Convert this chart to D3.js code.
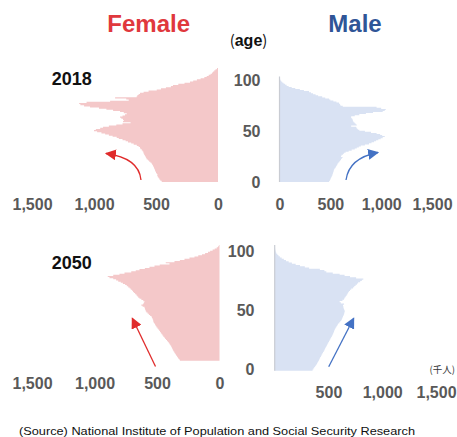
<!DOCTYPE html>
<html><head><meta charset="utf-8">
<script src="https://cdn.jsdelivr.net/npm/d3@7"></script>
<style>
html,body{margin:0;padding:0;background:#fff;}
svg{display:block;font-family:"Liberation Sans",Arial,sans-serif;}
</style></head>
<body>
<svg id="c" width="457" height="437"></svg>
<script>
// ---- data (thousand persons, ages 0..100) ----
const ages = d3.range(0, 101);
const female2018 = [
 454,465,472,478,485,490,489,495,500,505,
 508,512,516,520,525,530,535,545,555,565,
 575,580,585,590,595,600,602,608,615,625,
 629,640,655,680,700,726,745,770,800,817,
 850,880,910,940,975,1000,985,950,927,880,
 820,770,705,766,760,766,780,790,770,750,
 736,760,790,846,900,960,1032,1080,1110,1120,
 1060,870,720,740,830,656,650,640,629,600,
 560,494,460,420,380,363,320,270,226,200,
 170,140,110,91,75,60,48,40,30,20,
 8];
const male2018 = [
 488,495,500,505,510,515,520,522,526,530,
 533,535,540,548,555,562,568,572,580,590,
 598,605,612,620,605,610,625,635,650,680,
 710,740,760,780,800,840,880,905,930,950,
 972,995,1015,1035,1010,990,955,900,840,785,
 770,760,755,705,760,750,740,730,722,720,
 715,705,705,740,785,850,920,1015,1035,1045,
 1000,955,622,600,595,585,560,530,500,488,
 450,420,380,355,330,310,290,240,200,155,
 120,90,70,55,40,28,18,10,6,3,
 1];
const female2050 = [
 317,325,332,339,345,350,357,362,368,373,
 378,382,386,392,398,405,412,420,428,435,
 442,450,457,464,470,476,482,489,496,504,
 510,515,520,526,530,531,535,540,544,555,
 565,575,585,590,594,597,600,615,625,611,
 605,600,610,625,640,650,658,665,675,685,
 692,700,710,719,730,742,755,773,790,810,
 827,850,880,894,850,800,760,706,670,640,
 597,560,520,478,400,430,360,317,280,240,
 200,170,140,115,92,75,55,38,22,12,
 5];
const male2050 = [
 352,360,368,376,385,393,399,405,412,418,
 423,430,436,442,449,456,462,468,474,480,
 486,493,499,505,512,518,525,531,537,543,
 548,552,556,560,568,575,582,588,600,610,
 619,625,630,635,640,645,648,651,650,645,
 640,638,635,645,615,604,630,645,651,660,
 668,675,682,690,700,712,729,740,752,765,
 776,795,810,824,757,700,650,604,540,480,
 462,420,320,280,235,195,160,130,105,85,
 65,48,35,25,15,10,7,5,3,2,
 1];
const xTicksFull = [0, 500, 1000, 1500];
const xTicksMale2050 = [500, 1000, 1500];
const ageTicks = [0, 50, 100];
const years = ["2018", "2050"];

// ---- styles ----
const FEMALE_FILL = "#f4c8c9";
const MALE_FILL = "#d9e2f3";
const RED = "#e0383d";
const BLUE = "#2f5597";
const ARROW_RED = "#e02b2b";
const ARROW_BLUE = "#4472c4";
const LABEL_GRAY = "#595959";

const svg = d3.select("#c");

const defs = svg.append("defs");
function marker(id, color){
  defs.append("marker").attr("id", id)
    .attr("viewBox","0 0 10 10").attr("refX",9).attr("refY",5)
    .attr("markerWidth",11).attr("markerHeight",11)
    .attr("markerUnits","userSpaceOnUse")
    .attr("orient","auto")
    .append("path").attr("d","M0,0 L10,5 L0,10 z").attr("fill", color);
}
marker("ahR", ARROW_RED);
marker("ahB", ARROW_BLUE);

// panels: x range (zero -> 1500), y range (age0 bottom -> top)
const panels = [
  {values: female2018, fill: FEMALE_FILL, xr: [218, 32], yr: [182, 68], ticks: xTicksFull, tickY: 199, axisLine: false},
  {values: male2018, fill: MALE_FILL, xr: [279.5, 432], yr: [182, 76.5], ticks: xTicksFull, tickY: 199, axisLine: true},
  {values: female2050, fill: FEMALE_FILL, xr: [219.5, 32], yr: [360.7, 245], ticks: xTicksFull, tickY: 378, axisLine: false},
  {values: male2050, fill: MALE_FILL, xr: [274.7, 436], yr: [370.7, 245], ticks: xTicksMale2050, tickY: 386.7, axisLine: true}
];

panels.forEach(p => {
  const x = d3.scaleLinear().domain([0, 1500]).range(p.xr);
  const y = d3.scaleBand().domain(ages).range(p.yr).padding(0);
  const bw = y.bandwidth();
  // one stepped area per panel: each age band spans its full band height
  const stepPts = [];
  ages.forEach(a => {
    stepPts.push({v: p.values[a], y: y(a) + bw});
    stepPts.push({v: p.values[a], y: y(a)});
  });
  const area = d3.area().y(d => d.y).x0(x(0)).x1(d => x(d.v)).curve(d3.curveLinear);
  const g = svg.append("g");
  g.append("path").attr("d", area(stepPts)).attr("fill", p.fill);
  if (p.axisLine) {
    g.append("line").attr("x1", x(0)).attr("x2", x(0))
      .attr("y1", p.yr[1]).attr("y2", p.yr[0])
      .attr("stroke", "#c9ccd3").attr("stroke-width", 1.2);
  }
  const ax = svg.append("g").attr("transform", `translate(0,${p.tickY})`)
    .call(d3.axisBottom(x).tickValues(p.ticks).tickFormat(d3.format(",")).tickSize(0).tickPadding(0));
  ax.select(".domain").remove();
  ax.selectAll("text").attr("font-family", "'Liberation Sans',Arial,sans-serif")
    .attr("font-size", 16).attr("font-weight", "bold").attr("fill", LABEL_GRAY);
});

// age axes
const ageAxes = [
  {x: 260.5, range: [182.5, 80.8]},
  {x: 254.5, range: [369.8, 251.7]}
];
ageAxes.forEach(a => {
  const ys = d3.scaleLinear().domain([0, 100]).range(a.range);
  const g = svg.append("g").attr("transform", `translate(${a.x},0)`)
    .call(d3.axisLeft(ys).tickValues(ageTicks).tickSize(0).tickPadding(0));
  g.select(".domain").remove();
  g.selectAll("text").attr("font-family", "'Liberation Sans',Arial,sans-serif")
    .attr("font-size", 16).attr("font-weight", "bold").attr("fill", LABEL_GRAY);
});

// titles
svg.append("text").attr("x", 148.7).attr("y", 31.7).attr("text-anchor", "middle")
  .attr("font-size", 24).attr("font-weight", "bold").attr("fill", RED).text("Female");
svg.append("text").attr("x", 355).attr("y", 32).attr("text-anchor", "middle")
  .attr("font-size", 24).attr("font-weight", "bold").attr("fill", BLUE).text("Male");

const ageT = svg.append("text").attr("x", 248.5).attr("y", 46).attr("text-anchor", "middle")
  .attr("font-size", 16).attr("fill", "#111");
ageT.append("tspan").attr("font-family","'Noto Sans CJK JP'").attr("font-size",15).text("(");
ageT.append("tspan").attr("font-weight", "bold").text("age");
ageT.append("tspan").attr("font-family","'Noto Sans CJK JP'").attr("font-size",15).text(")");

svg.append("text").attr("x", 71.7).attr("y", 85).attr("text-anchor", "middle")
  .attr("font-size", 18).attr("font-weight", "bold").attr("fill", "#111").text(years[0]);
svg.append("text").attr("x", 71.7).attr("y", 269.3).attr("text-anchor", "middle")
  .attr("font-size", 18).attr("font-weight", "bold").attr("fill", "#111").text(years[1]);

svg.append("text").attr("x", 429.5).attr("y", 372.5)
  .attr("font-family", "'Noto Sans CJK JP',sans-serif").attr("font-size", 9.5).attr("fill", "#333").text("(千人)");

svg.append("text").attr("x", 19).attr("y", 434.5)
  .attr("font-size", 11.5).attr("fill", "#111")
  .attr("textLength", 396).attr("lengthAdjust", "spacingAndGlyphs")
  .text("(Source) National Institute of Population and Social Security Research");

// arrows
svg.append("path").attr("d", "M141,180 Q139,158 106,153.5").attr("fill", "none")
  .attr("stroke", ARROW_RED).attr("stroke-width", 1.3).attr("marker-end", "url(#ahR)");
svg.append("path").attr("d", "M346,180 Q349,158 378,152.5").attr("fill", "none")
  .attr("stroke", ARROW_BLUE).attr("stroke-width", 1.3).attr("marker-end", "url(#ahB)");
svg.append("line").attr("x1", 155.5).attr("y1", 366.5).attr("x2", 132.3).attr("y2", 318.3)
  .attr("stroke", ARROW_RED).attr("stroke-width", 1.3).attr("marker-end", "url(#ahR)");
svg.append("line").attr("x1", 328.7).attr("y1", 366.7).attr("x2", 353.7).attr("y2", 318.3)
  .attr("stroke", ARROW_BLUE).attr("stroke-width", 1.3).attr("marker-end", "url(#ahB)");
</script>
</body></html>
